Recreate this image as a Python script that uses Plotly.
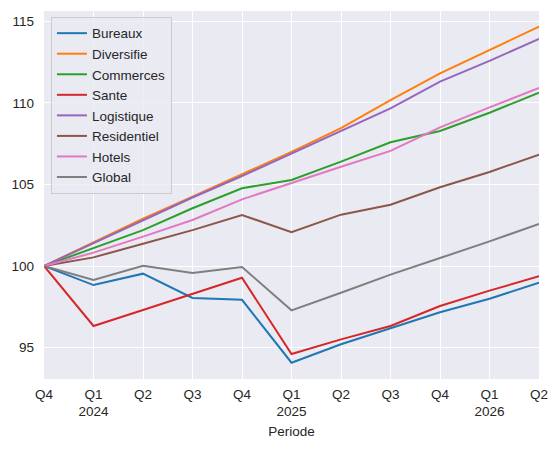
import plotly.graph_objects as go

# quarters from Q4 2023 to Q2 2026
periods = ["2023Q4", "2024Q1", "2024Q2", "2024Q3", "2024Q4", "2025Q1",
           "2025Q2", "2025Q3", "2025Q4", "2026Q1", "2026Q2"]
tick_labels = ["Q4", "Q1<br>2024", "Q2", "Q3", "Q4", "Q1<br>2025",
               "Q2", "Q3", "Q4", "Q1<br>2026", "Q2"]

bureaux = [100, 98.83, 99.53, 98.04, 97.93, 94.07, 95.2, 96.2, 97.16, 97.99, 98.98]
diversifie = [100, 101.45, 102.9, 104.25, 105.62, 107.0, 108.45, 110.18, 111.82, 113.25, 114.68]
commerces = [100, 101.08, 102.2, 103.54, 104.77, 105.28, 106.4, 107.59, 108.28, 109.4, 110.63]
sante = [100, 96.32, 97.3, 98.28, 99.28, 94.6, 95.5, 96.32, 97.55, 98.49, 99.37]
logistique = [100, 101.4, 102.85, 104.2, 105.52, 106.9, 108.3, 109.67, 111.31, 112.58, 113.93]
residentiel = [100, 100.53, 101.37, 102.2, 103.13, 102.07, 103.15, 103.76, 104.83, 105.77, 106.83]
hotels = [100, 100.82, 101.8, 102.82, 104.09, 105.11, 106.09, 107.06, 108.5, 109.73, 110.92]
global_idx = [100, 99.14, 100.02, 99.57, 99.94, 97.28, 98.36, 99.47, 100.49, 101.51, 102.58]

series = [
    ("Bureaux", bureaux, "#1f77b4"),
    ("Diversifie", diversifie, "#ff7f0e"),
    ("Commerces", commerces, "#2ca02c"),
    ("Sante", sante, "#d62728"),
    ("Logistique", logistique, "#9467bd"),
    ("Residentiel", residentiel, "#8c564b"),
    ("Hotels", hotels, "#e377c2"),
    ("Global", global_idx, "#7f7f7f"),
]

fig = go.Figure()
for name, vals, col in series:
    fig.add_trace(go.Scatter(x=periods, y=vals, mode="lines", name=name,
                             line=dict(color=col, width=2)))

# page body has an 8px margin, so the figure is a bit smaller than the window
fig.update_layout(
    width=542, height=433,
    margin=dict(l=36, r=11, t=3, b=62, autoexpand=False),
    paper_bgcolor="white",
    plot_bgcolor="#EAEAF2",
    font=dict(family="Liberation Sans, Arial, sans-serif", size=13.5, color="#262626"),
    showlegend=True,
    legend=dict(x=0.014, y=0.984, xanchor="left", yanchor="top",
                bgcolor="rgba(234,234,242,0.8)", bordercolor="#CCCCCC", borderwidth=1,
                font=dict(size=13.5), tracegroupgap=0, itemwidth=30),
)
fig.update_xaxes(type="category", tickmode="array", tickvals=periods, ticktext=tick_labels,
                 range=[0, len(periods) - 1], showgrid=True, gridcolor="white", gridwidth=1,
                 zeroline=False, showline=False, ticks="", ticklabelstandoff=5,
                 automargin=False,
                 title=dict(text="Periode", standoff=8, font=dict(size=13.5)))
fig.update_yaxes(range=[93.07, 115.64], tickvals=[95, 100, 105, 110, 115],
                 showgrid=True, gridcolor="white", gridwidth=1, automargin=False,
                 zeroline=False, showline=False, ticks="", ticklabelstandoff=9)

fig.write_html("out.html")
